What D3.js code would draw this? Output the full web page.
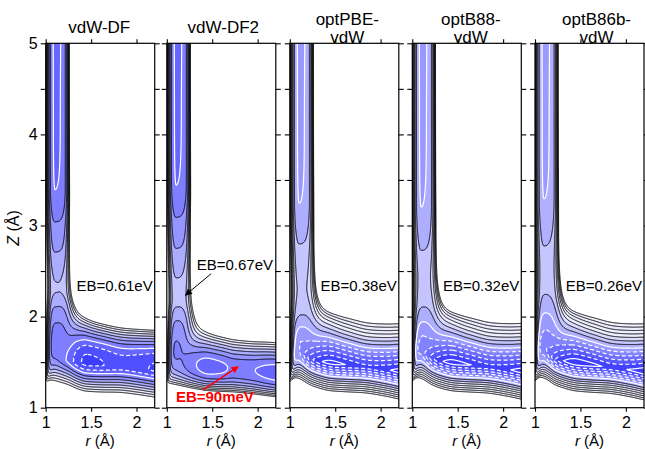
<!DOCTYPE html>
<html><head><meta charset="utf-8">
<script src="https://cdn.jsdelivr.net/npm/d3@7"></script>
<style>
body{margin:0;background:#fff;}
svg{display:block;font-family:"Liberation Sans",Arial,Helvetica,sans-serif;}
</style></head><body>
<svg id="chart" width="645" height="449"></svg>
<script>
// ---------------- data ----------------
const panelTitles = [["vdW-DF"], ["vdW-DF2"], ["optPBE-", "vdW"], ["optB88-", "vdW"], ["optB86b-", "vdW"]];
const ebLabels = ["EB=0.61eV", "EB=0.67eV", "EB=0.38eV", "EB=0.32eV", "EB=0.26eV"];
const wellBarrierLabel = "EB=90meV";
const contourLevels = [-1.2, -1.0, -0.8, -0.6, -0.4, -0.2, 0, 0.2, 0.4, 0.6, 0.8, 1.0, 1.2, 1.4];
const solidWhiteLevels = [0, -1.0];
const zTicks = [1, 1.5, 2, 2.5, 3, 3.5, 4, 4.5, 5];
const zTickLabels = ["1", "", "2", "", "3", "", "4", "", "5"];
const rTicks = [1, 1.5, 2];
const rTickLabels = ["1", "1.5", "2"];

// energy along the molecular (vertical) channel, E(Z) in eV
const dfVZ   = [1.0, 1.5, 1.72, 1.95, 2.12, 2.28, 2.40, 2.71, 3.04, 3.39, 4.2, 5.0];
const dfVE   = [0.0, 0.0, 0.05, 0.22, 0.42, 0.61, 0.60, 0.40, 0.20, 0.00, -0.012, -0.015];
const df2VZ  = [1.0, 1.55, 1.75, 1.95, 2.2, 2.43, 2.75, 3.09, 3.44, 4.3, 5.0];
const df2VE  = [0.1, 0.1, 0.2, 0.4, 0.67, 0.6, 0.4, 0.2, 0.0, -0.012, -0.015];
const pbeVZ  = [1.0, 1.5, 1.7, 1.87, 2.0, 2.15, 2.3, 2.5, 2.8, 3.25, 4.2, 5.0];
const pbeVE  = [-0.45, -0.4, -0.2, 0.0, 0.2, 0.33, 0.38, 0.33, 0.2, 0.0, -0.012, -0.015];
const b88VZ  = [1.0, 1.5, 1.62, 1.78, 1.93, 2.09, 2.25, 2.42, 2.73, 3.21, 4.2, 5.0];
const b88VE  = [-0.45, -0.42, -0.4, -0.2, 0.0, 0.2, 0.29, 0.32, 0.2, 0.0, -0.012, -0.015];
const b86VZ  = [1.0, 1.5, 1.68, 1.85, 2.03, 2.23, 2.5, 2.78, 3.3, 4.2, 5.0];
const b86VE  = [-0.5, -0.45, -0.4, -0.2, 0.0, 0.2, 0.26, 0.2, 0.0, -0.012, -0.015];

// energy along the dissociated (horizontal) channel, E(r) in eV
const dfHR   = [1.0, 1.15, 1.25, 1.35, 1.45, 1.6, 1.85, 2.05, 2.2, 2.3];
const dfHE   = [0.3, 0.12, -0.05, -0.32, -0.46, -0.42, -0.3, -0.36, -0.43, -0.45];
const df2HR  = [1.0, 1.15, 1.3, 1.45, 1.6, 1.75, 1.95, 2.1, 2.2, 2.3];
const df2HE  = [0.4, 0.25, 0.03, -0.1, -0.05, 0.04, 0.01, -0.07, -0.1, -0.1];
const optHR  = [1.0, 1.12, 1.22, 1.32, 1.45, 1.62, 1.85, 2.08, 2.2, 2.3];
const pbeHE  = [0.0, -0.3, -0.72, -0.95, -1.08, -1.0, -0.88, -0.98, -1.08, -1.1];
const b88HE  = [0.0, -0.32, -0.75, -0.98, -1.1, -1.02, -0.9, -1.0, -1.1, -1.12];
const b86HE  = [-0.05, -0.35, -0.8, -1.02, -1.15, -1.08, -0.95, -1.05, -1.15, -1.17];

// channel geometry / wall stiffness per panel
const channelR   = [1.105, 1.105, 1.105, 1.10, 1.10];   // r of molecular channel
const wellZ      = [1.48, 1.46, 1.49, 1.49, 1.49];   // Z of well at r = 1.45
const wellTilt   = [-0.09, -0.09, -0.12, -0.12, -0.13];
const wallUpA    = [1.17, 1.9, 1.62, 1.62, 1.65];
const wallUpP    = [2.4, 1.94, 1.17, 1.17, 1.15];
const wallLoA    = [2.36, 3.0, 3.0, 3.0, 3.05];
const wallLoP    = [1.28, 2.46, 1.12, 1.12, 1.1];
const shadeAtZero = [114, 114, 163, 163, 165];
const shadePerEV  = [115, 115, 110, 110, 110];

const vProfiles = [[dfVZ, dfVE], [df2VZ, df2VE], [pbeVZ, pbeVE], [b88VZ, b88VE], [b86VZ, b86VE]];
const hProfiles = [[dfHR, dfHE], [df2HR, df2HE], [optHR, pbeHE], [optHR, b88HE], [optHR, b86HE]];

// ---------------- layout ----------------
const panelLeft = [45.7, 166.8, 289.8, 412.3, 535.0];
const panelW = 109;
const plotTop = 43.3, plotBottom = 407.7;
const titleDx = [-1, 2, 3, 4, 7];

// ---------------- helpers ----------------
function monotone(xs, ys) {
  const n = xs.length, d = [], m = [];
  for (let i = 0; i < n - 1; i++) d[i] = (ys[i + 1] - ys[i]) / (xs[i + 1] - xs[i]);
  m[0] = d[0]; m[n - 1] = d[n - 2];
  for (let i = 1; i < n - 1; i++) m[i] = (d[i - 1] * d[i] <= 0) ? 0 : (d[i - 1] + d[i]) / 2;
  for (let i = 0; i < n - 1; i++) {
    if (d[i] === 0) { m[i] = 0; m[i + 1] = 0; continue; }
    const a = m[i] / d[i], b = m[i + 1] / d[i], s = a * a + b * b;
    if (s > 9) { const t = 3 / Math.sqrt(s); m[i] = t * a * d[i]; m[i + 1] = t * b * d[i]; }
  }
  return x => {
    if (x <= xs[0]) return ys[0];
    if (x >= xs[n - 1]) return ys[n - 1];
    const i = d3.bisectRight(xs, x) - 1;
    const h = xs[i + 1] - xs[i], t = (x - xs[i]) / h, t2 = t * t, t3 = t2 * t;
    return (2 * t3 - 3 * t2 + 1) * ys[i] + (t3 - 2 * t2 + t) * h * m[i] +
           (-2 * t3 + 3 * t2) * ys[i + 1] + (t3 - t2) * h * m[i + 1];
  };
}

const WV = 0.13, WH = 0.36;
function energyField(k) {
  const ev = monotone(vProfiles[k][0], vProfiles[k][1]);
  const eh = monotone(hProfiles[k][0], hProfiles[k][1]);
  const a = channelR[k] - WV;
  return (r, z) => {
    const zw = wellZ[k] + wellTilt[k] * (r - 1.45);
    const b = zw - WH;
    const P = Math.max((r - a) / WV, 0.02), Q = Math.max((z - b) / WH, 0.02);
    const P3 = P * P * P, Q3 = Q * Q * Q;
    const m = Math.cbrt(1 / (1 / P3 + 1 / Q3));
    const u = m - 1;
    const P4 = P3 * P, Q4 = Q3 * Q;
    const w = Q4 / (P4 + Q4);
    let Wv, Wh;
    if (u > 0) { Wv = 0.05 * u * u + 0.18 * Math.pow(u / 0.85, 6); Wh = wallUpA[k] * Math.pow(u, wallUpP[k]); }
    else { Wv = 0.22 * Math.pow(-u / 0.42, 3); Wh = wallLoA[k] * Math.pow(-u, wallLoP[k]); }
    return w * (ev(z) + Wv) + (1 - w) * (eh(r) + Wh);
  };
}

// ---------------- drawing ----------------
const svg = d3.select("#chart");
const defs = svg.append("defs");
[["ahBlack", "#000"], ["ahRed", "#ff0000"]].forEach(([id, c]) => {
  defs.append("marker").attr("id", id).attr("viewBox", "0 0 10 10")
    .attr("refX", 9).attr("refY", 5).attr("markerUnits", "userSpaceOnUse")
    .attr("markerWidth", 9).attr("markerHeight", 7).attr("orient", "auto")
    .append("path").attr("d", "M0,0 L10,5 L0,10 z").attr("fill", c);
});

const gr0 = 0.96, gr1 = 2.24, gdr = 0.004, gz0 = 0.95, gz1 = 5.05, gdz = 0.005;
const nx = Math.round((gr1 - gr0) / gdr) + 1, ny = Math.round((gz1 - gz0) / gdz) + 1;
const y = d3.scaleLinear([1, 5], [plotBottom, plotTop]);
const FONT = '"Liberation Sans", Arial, Helvetica, sans-serif';

panelTitles.forEach((title, k) => {
  const x = d3.scaleLinear([1, 2.2], [panelLeft[k], panelLeft[k] + panelW]);
  const E = energyField(k);
  const vals = new Float64Array(nx * ny);
  let emin = Infinity;
  for (let j = 0; j < ny; j++) {
    const z = gz0 + j * gdz;
    for (let i = 0; i < nx; i++) {
      const r = gr0 + i * gdr;
      const e = E(r, z);
      if (r >= 1 && r <= 2.2 && z >= 1 && z <= 5 && e < emin) emin = e;
      vals[j * nx + i] = -e;
    }
  }
  const contours = d3.contours().size([nx, ny]).thresholds(contourLevels.map(l => -l))(vals);
  contours.forEach(c => c.level = Math.round(-c.value * 10) / 10);
  contours.sort((p, q) => q.level - p.level);

  const proj = d3.geoTransform({
    point(px, py) { this.stream.point(x(gr0 + (px - 0.5) * gdr), y(gz0 + (py - 0.5) * gdz)); }
  });
  const path = d3.geoPath(proj);
  const shade = e => {
    const v = Math.max(60, Math.min(238, shadeAtZero[k] + shadePerEV[k] * e));
    return `rgb(${Math.round(v)},${Math.round(v)},255)`;
  };

  defs.append("clipPath").attr("id", "clip" + k).append("rect")
    .attr("x", panelLeft[k]).attr("y", plotTop).attr("width", panelW).attr("height", plotBottom - plotTop);
  const g = svg.append("g").attr("clip-path", `url(#clip${k})`);

  g.selectAll("path.fill").data(contours).join("path").attr("class", "fill")
    .attr("d", path).attr("fill", c => shade(Math.max(c.level - 0.1, emin))).attr("stroke", "none");
  const lineData = contours.filter(c => c.coordinates.length);
  g.selectAll("path.line").data(lineData).join("path").attr("class", "line")
    .attr("d", path).attr("fill", "none")
    .attr("stroke", c => c.level > 0 ? "#000" : "#fff")
    .attr("stroke-width", c => c.level > 0 ? 1.0 : 1.2)
    .attr("stroke-dasharray", c => (c.level < 0 && !solidWhiteLevels.includes(c.level)) ? "4,2.5" : null);

  // frame
  svg.append("rect").attr("x", panelLeft[k]).attr("y", plotTop).attr("width", panelW)
    .attr("height", plotBottom - plotTop).attr("fill", "none").attr("stroke", "#000").attr("stroke-width", 1.2);

  // axes
  const styleAxis = sel => {
    sel.attr("font-family", FONT).attr("font-size", 16);
    sel.select(".domain").remove();
    sel.selectAll(".tick line").attr("stroke", "#000").attr("stroke-width", 1.1);
    sel.selectAll(".tick text").attr("fill", "#000");
  };
  svg.append("g").attr("transform", `translate(${panelLeft[k]},0)`)
    .call(d3.axisLeft(y).tickValues(zTicks).tickSize(5).tickSizeOuter(0).tickPadding(3)
      .tickFormat((d, i) => k === 0 ? zTickLabels[i] : ""))
    .call(styleAxis);
  svg.append("g").attr("transform", `translate(${panelLeft[k] + panelW},0)`)
    .call(d3.axisRight(y).tickValues(zTicks).tickSize(5).tickSizeOuter(0).tickFormat(""))
    .call(styleAxis);
  svg.append("g").attr("transform", `translate(0,${plotTop})`)
    .call(d3.axisTop(x).tickValues(rTicks).tickSize(4).tickSizeOuter(0).tickFormat(""))
    .call(styleAxis);
  svg.append("g").attr("transform", `translate(0,${plotBottom})`)
    .call(d3.axisBottom(x).tickValues(rTicks).tickSize(4).tickSizeOuter(0).tickPadding(4.5)
      .tickFormat((d, i) => rTickLabels[i]))
    .call(styleAxis);

  // title
  const cx = panelLeft[k] + panelW / 2 + titleDx[k];
  const t = svg.append("text").attr("x", cx).attr("text-anchor", "middle")
    .attr("font-size", 17).attr("fill", "#000");
  if (title.length === 1) {
    t.attr("y", 33).text(title[0]);
  } else {
    t.append("tspan").attr("x", cx).attr("y", 24.5).text(title[0]);
    t.append("tspan").attr("x", cx).attr("y", 43).text(title[1]);
  }

  // x label
  const xl = svg.append("text").attr("x", panelLeft[k] + panelW / 2).attr("y", 446)
    .attr("text-anchor", "middle").attr("font-size", 15).attr("fill", "#000");
  xl.append("tspan").attr("font-style", "italic").text("r");
  xl.append("tspan").text(" (Å)");

  // barrier label
  svg.append("text")
    .attr("x", x(k === 1 ? 2.17 : 2.178)).attr("y", y(k === 1 ? 2.51 : 2.28))
    .attr("text-anchor", "end").attr("font-size", 15).attr("fill", "#000").text(ebLabels[k]);

  if (k === 1) {
    svg.append("line").attr("x1", x(1.487)).attr("y1", y(2.47)).attr("x2", x(1.205)).attr("y2", y(2.235))
      .attr("stroke", "#000").attr("stroke-width", 1).attr("marker-end", "url(#ahBlack)");
    svg.append("line").attr("x1", x(1.40)).attr("y1", y(1.195)).attr("x2", x(1.785)).attr("y2", y(1.45))
      .attr("stroke", "#ff0000").attr("stroke-width", 1.5).attr("marker-end", "url(#ahRed)");
    svg.append("text").attr("x", x(1.10)).attr("y", y(1.068)).attr("font-size", 15)
      .attr("font-weight", "bold").attr("fill", "#ff0000").text(wellBarrierLabel);
  }
});

// y label
const yl = svg.append("text").attr("transform", "translate(19,228) rotate(-90)")
  .attr("text-anchor", "middle").attr("font-size", 16).attr("fill", "#000");
yl.append("tspan").attr("font-style", "italic").text("Z");
yl.append("tspan").text(" (Å)");
</script></body></html>
